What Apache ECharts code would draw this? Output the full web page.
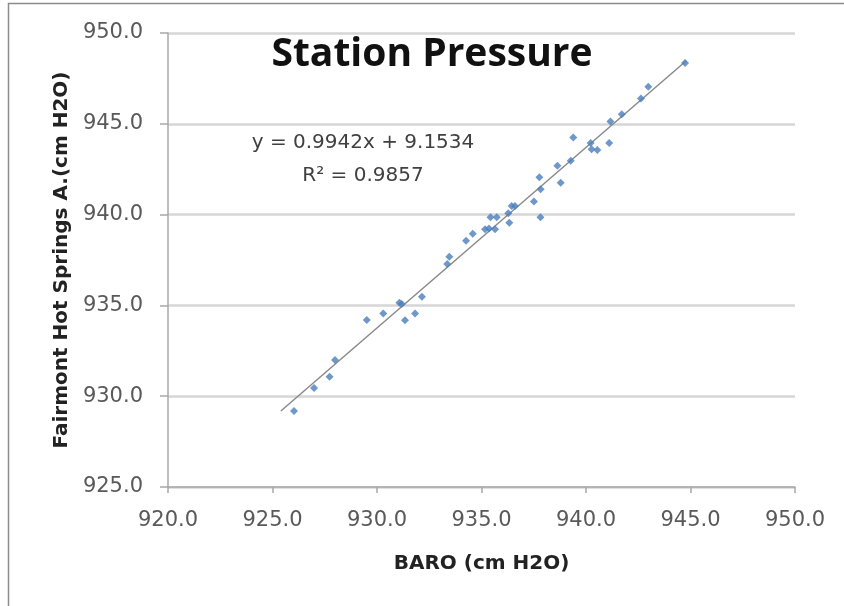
<!DOCTYPE html>
<html>
<head>
<meta charset="utf-8">
<script src="https://cdn.jsdelivr.net/npm/echarts@6/dist/echarts.min.js"></script>
<style>
html,body{margin:0;padding:0;background:#fff;}
#chart{width:844px;height:606px;}
</style>
</head>
<body>
<div id="chart"></div>
<script>
// BARO (cm H2O) readings
const baroValues = [926.03, 926.99, 927.73, 927.99, 929.51, 930.30, 931.07, 931.18, 931.34, 931.82,
  932.15, 933.36, 933.46, 934.26, 934.58, 935.17, 935.36, 935.65, 935.43, 935.73,
  936.33, 936.28, 936.44, 936.60, 937.51, 937.82, 937.83, 937.77, 938.79, 938.63,
  939.27, 939.39, 940.22, 940.27, 940.54, 941.11, 941.17, 941.71, 942.63, 942.98, 944.74];
// Fairmont Hot Springs A. (cm H2O) readings
const fairmontValues = [929.19, 930.45, 931.07, 931.99, 934.20, 934.56, 935.15, 935.08, 934.18, 934.56,
  935.48, 937.28, 937.68, 938.56, 938.95, 939.19, 939.23, 939.19, 939.85, 939.85,
  939.55, 940.07, 940.47, 940.47, 940.72, 939.85, 941.39, 942.05, 941.76, 942.69,
  942.97, 944.25, 943.94, 943.60, 943.56, 943.94, 945.13, 945.52, 946.40, 947.04, 948.35];
// Linear trendline as printed on the chart
const trendSlope = 0.9942;
const trendIntercept = 9.1534;
const trendXRange = [925.4, 944.8];
const xTicks = { min: 920, max: 950, interval: 5 };
const yTicks = { min: 925, max: 950, interval: 5 };
const titleText = 'Station Pressure';
const equationText = 'y = 0.9942x + 9.1534';
const r2Text = 'R\u00B2 = 0.9857';
const xName = 'BARO (cm H2O)';
const yName = 'Fairmont Hot Springs A.(cm H2O)';

const points = baroValues.map((x, i) => [x, fairmontValues[i]]);
const trendData = trendXRange.map(x => [x, trendSlope * x + trendIntercept]);

const font = '"DejaVu Sans", sans-serif';
const chart = echarts.init(document.getElementById('chart'));
chart.setOption({
  animation: false,
  backgroundColor: '#fff',
  grid: { left: 168, top: 33, right: 49, bottom: 119, containLabel: false },
  graphic: [
    { type: 'rect', shape: { x: 8.5, y: 3.5, width: 900, height: 700 }, style: { fill: 'none', stroke: '#8c8c8c', lineWidth: 1.5 }, silent: true },
    { type: 'text', style: { text: titleText, x: 432, y: 55, fill: '#111', font: 'bold 39px "Open Sans", sans-serif', align: 'center', verticalAlign: 'middle' } },
    { type: 'text', style: { text: equationText, x: 363, y: 143, fill: '#404040', font: '20px ' + font, align: 'center', verticalAlign: 'middle' } },
    { type: 'text', style: { text: r2Text, x: 363, y: 176, fill: '#404040', font: '20px ' + font, align: 'center', verticalAlign: 'middle' } }
  ],
  xAxis: {
    type: 'value', min: xTicks.min, max: xTicks.max, interval: xTicks.interval,
    name: xName, nameLocation: 'middle', nameGap: 67,
    nameTextStyle: { fontFamily: font, fontWeight: 'bold', fontSize: 20, color: '#222' },
    axisLine: { show: true, lineStyle: { color: '#a8a8a8', width: 1.5 } },
    axisTick: { show: true, length: 6, lineStyle: { color: '#a8a8a8', width: 1.5 } },
    axisLabel: { formatter: v => v.toFixed(1), fontFamily: font, fontSize: 21, color: '#595959', margin: 23 },
    splitLine: { show: false }
  },
  yAxis: {
    type: 'value', min: yTicks.min, max: yTicks.max, interval: yTicks.interval,
    name: yName, nameLocation: 'middle', nameGap: 91, nameRotate: 90,
    nameTextStyle: { fontFamily: font, fontWeight: 'bold', fontSize: 20, color: '#222' },
    axisLine: { show: true, lineStyle: { color: '#a8a8a8', width: 1.5 } },
    axisTick: { show: true, length: 8, lineStyle: { color: '#a8a8a8', width: 1.5 } },
    axisLabel: { formatter: v => v.toFixed(1), fontFamily: font, fontSize: 21, color: '#595959', margin: 25 },
    splitLine: { show: true, lineStyle: { color: '#d6d6d6', width: 2.5 } }
  },
  series: [
    {
      type: 'scatter', data: points, symbol: 'diamond', symbolSize: 8,
      itemStyle: { color: '#4a7ebb' }, z: 3
    },
    {
      type: 'line', data: trendData, showSymbol: false, symbol: 'none',
      lineStyle: { color: '#8a8a8a', width: 1.5 }, z: 2
    }
  ]
});
</script>
</body>
</html>
